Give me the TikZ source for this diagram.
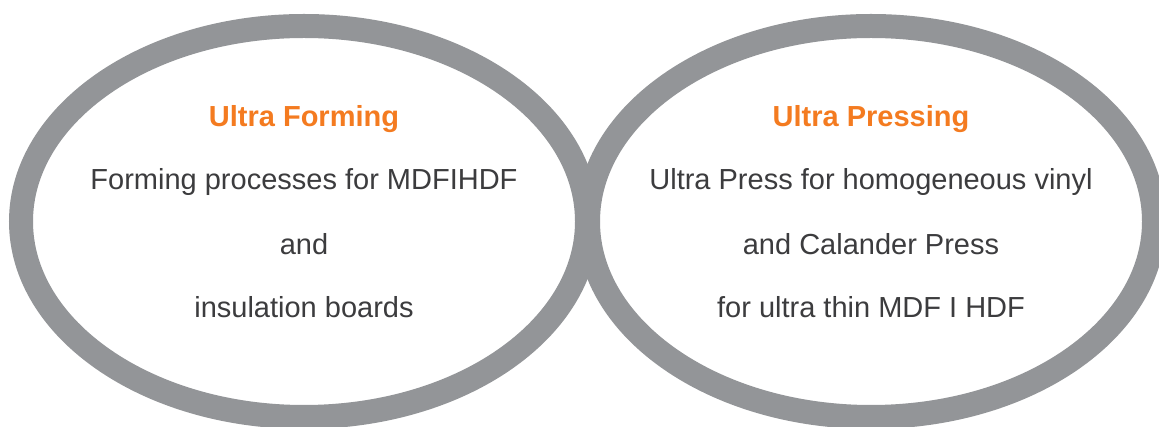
\documentclass[tikz,border=0pt]{standalone}
\usepackage{fontspec}
\setmainfont{Liberation Sans}
\definecolor{ringgray}{HTML}{939598}
\definecolor{accent}{HTML}{F47B20}
\definecolor{bodytext}{HTML}{3C3C3E}
\begin{document}
\begin{tikzpicture}[x=1pt,y=-1pt,
  ring/.style={draw=ringgray, line width=24pt},
  heading/.style={anchor=base, inner sep=0pt, text=accent, font=\fontsize{29}{34}\selectfont\bfseries},
  bodyline/.style={anchor=base, inner sep=0pt, text=bodytext, font=\fontsize{29}{34}\selectfont}]
\useasboundingbox (0,0) rectangle (1159,427);
\fill[white] (0,0) rectangle (1159,427);
\coordinate (cl) at (304,221.5);
\coordinate (cr) at (871,221.5);
\draw[ring] (cl) ellipse [x radius=283pt, y radius=195.5pt];
\draw[ring] (cr) ellipse [x radius=283pt, y radius=195.5pt];
% left
\node[heading] (lt) at (304,127) {Ultra Forming};
\node[bodyline] (l1) at (304,190) {Forming processes for MDFIHDF};
\node[bodyline] (l2) at (304,255) {and};
\node[bodyline] (l3) at (304,318) {insulation boards};
% right
\node[heading] (rt) at (871,127) {Ultra Pressing};
\node[bodyline] (r1) at (871,190) {Ultra Press for homogeneous vinyl};
\node[bodyline] (r2) at (871,255) {and Calander Press};
\node[bodyline] (r3) at (871,318) {for ultra thin MDF I HDF};
\end{tikzpicture}
\end{document}
